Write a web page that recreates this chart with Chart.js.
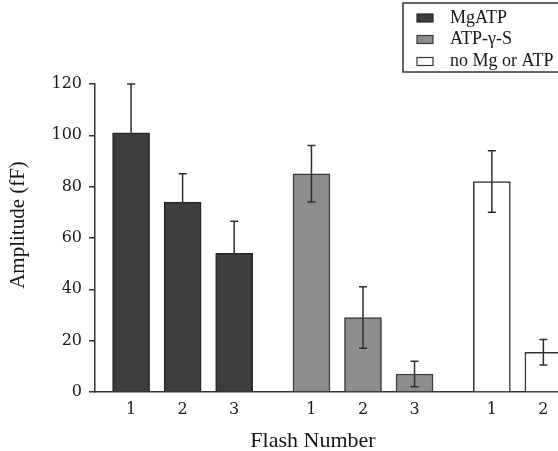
<!DOCTYPE html>
<html>
<head>
<meta charset="utf-8">
<script src="https://cdn.jsdelivr.net/npm/chart.js@4.4.0/dist/chart.umd.min.js"></script>
<style>
  html, body { margin: 0; padding: 0; background: #fff; overflow: hidden; }
  #wrap { width: 558px; height: 451px; overflow: hidden; }
</style>
</head>
<body>
<div id="wrap"><canvas id="flashChart" width="640" height="451"></canvas></div>
<script>
// Flash number within each condition
const flashLabels = ['1', '2', '3'];
// Conditions (legend entries)
const conditions = ['MgATP', 'ATP-\u03b3-S', 'no Mg or ATP'];
// Mean amplitude (fF) and error per flash
const mgAtpAmp = [101, 74, 54];
const mgAtpErr = [19, 11, 12.5];
const atpGammaSAmp = [85, 29, 7];
const atpGammaSErr = [11, 12, 5];
const noMgAtpAmp = [82, 15.5];
const noMgAtpErr = [12, 5];
// Y axis ticks
const yTicks = [0, 20, 40, 60, 80, 100, 120];

const amps = [mgAtpAmp, atpGammaSAmp, noMgAtpAmp];
const errs = [mgAtpErr, atpGammaSErr, noMgAtpErr];
const fills = ['#3d3d3d', '#8d8d8d', '#ffffff'];
const edges = ['#262626', '#3a3a3a', '#333333'];
// the lower whisker disappears into the dark MgATP bars
const innerWhisker = ['#3d3d3d', '#2e2e2e', '#2e2e2e'];

// each condition sits 3.5 flash-slots after the previous one
const groupStride = 3.5;
const tickText = {};

const datasets = conditions.map((name, g) => ({
  label: name,
  data: amps[g].map((v, i) => {
    const x = g * groupStride + i + 1;
    tickText[x] = flashLabels[i];
    return { x: x, y: v, err: errs[g][i] };
  }),
  backgroundColor: fills[g],
  borderColor: edges[g],
  borderWidth: 1.5
}));

const serif = '"Liberation Serif", "Times New Roman", serif';
const tickFont = { family: '"DejaVu Serif", serif', size: 16 };

// error bars drawn on top of each bar
const errorBars = {
  id: 'errorBars',
  afterDatasetsDraw(chart) {
    const ctx = chart.ctx;
    const y = chart.scales.y;
    ctx.save();
    ctx.lineWidth = 1.5;
    chart.data.datasets.forEach((ds, d) => {
      chart.getDatasetMeta(d).data.forEach((bar, i) => {
        const p = ds.data[i];
        const top = y.getPixelForValue(p.y + p.err);
        const mid = y.getPixelForValue(p.y);
        const bot = y.getPixelForValue(Math.max(0, p.y - p.err));
        ctx.strokeStyle = '#2e2e2e';
        ctx.beginPath();
        ctx.moveTo(bar.x, top); ctx.lineTo(bar.x, mid);
        ctx.moveTo(bar.x - 4, top); ctx.lineTo(bar.x + 4, top);
        ctx.stroke();
        ctx.strokeStyle = innerWhisker[d];
        ctx.beginPath();
        ctx.moveTo(bar.x, mid); ctx.lineTo(bar.x, bot);
        ctx.moveTo(bar.x - 4, bot); ctx.lineTo(bar.x + 4, bot);
        ctx.stroke();
      });
    });
    ctx.restore();
  }
};

// axis titles and boxed legend
const decorations = {
  id: 'decorations',
  afterDraw(chart) {
    const ctx = chart.ctx;
    ctx.save();
    ctx.fillStyle = '#161616';
    ctx.textAlign = 'center';
    ctx.textBaseline = 'alphabetic';
    ctx.font = '22px ' + serif;
    ctx.fillText('Flash Number', 313, 447);

    ctx.save();
    ctx.translate(24, 225);
    ctx.rotate(-Math.PI / 2);
    ctx.font = '21px ' + serif;
    ctx.fillText('Amplitude (fF)', 0, 0);
    ctx.restore();

    // legend box
    ctx.strokeStyle = '#333';
    ctx.lineWidth = 1.5;
    ctx.strokeRect(403, 3, 200, 69);
    ctx.font = '18px ' + serif;
    ctx.textAlign = 'left';
    ctx.textBaseline = 'middle';
    const rows = [18, 39.5, 61.5];
    chart.data.datasets.forEach((ds, d) => {
      const cy = rows[d];
      ctx.fillStyle = ds.backgroundColor;
      ctx.fillRect(417, cy - 4, 16, 8);
      ctx.lineWidth = 1.2;
      ctx.strokeStyle = ds.borderColor;
      ctx.strokeRect(417, cy - 4, 16, 8);
      ctx.fillStyle = '#161616';
      ctx.fillText(ds.label, 450, cy);
    });
    ctx.restore();
  }
};

new Chart(document.getElementById('flashChart'), {
  type: 'bar',
  data: { datasets: datasets },
  plugins: [errorBars, decorations],
  options: {
    responsive: false,
    animation: false,
    layout: { padding: { top: 84, right: 9, left: 0, bottom: 0 } },
    plugins: { legend: { display: false }, tooltip: { enabled: false } },
    datasets: {
      bar: { grouped: false, barPercentage: 1, categoryPercentage: 1, maxBarThickness: 37 }
    },
    scales: {
      x: {
        type: 'linear',
        offset: false,
        min: 0.3,
        max: 10.7,
        grid: { display: false, drawTicks: false, offset: false },
        border: { color: '#333', width: 1.5 },
        afterBuildTicks: (s) => { s.ticks = Object.keys(tickText).map(v => ({ value: Number(v) })); },
        afterFit: (s) => { s.height = 59; },
        ticks: {
          font: tickFont,
          color: '#1a1a1a',
          padding: 8,
          autoSkip: false,
          maxRotation: 0,
          callback: (v) => tickText[v] || ''
        }
      },
      y: {
        min: 0,
        max: 120,
        afterBuildTicks: (s) => { s.ticks = yTicks.map(v => ({ value: v })); },
        afterFit: (s) => { s.width = 95; },
        grid: { drawOnChartArea: false, tickLength: 6, color: '#333', lineWidth: 1.5 },
        border: { color: '#333', width: 1.5 },
        ticks: { font: tickFont, color: '#1a1a1a', padding: 7 }
      }
    }
  }
});
</script>
</body>
</html>
